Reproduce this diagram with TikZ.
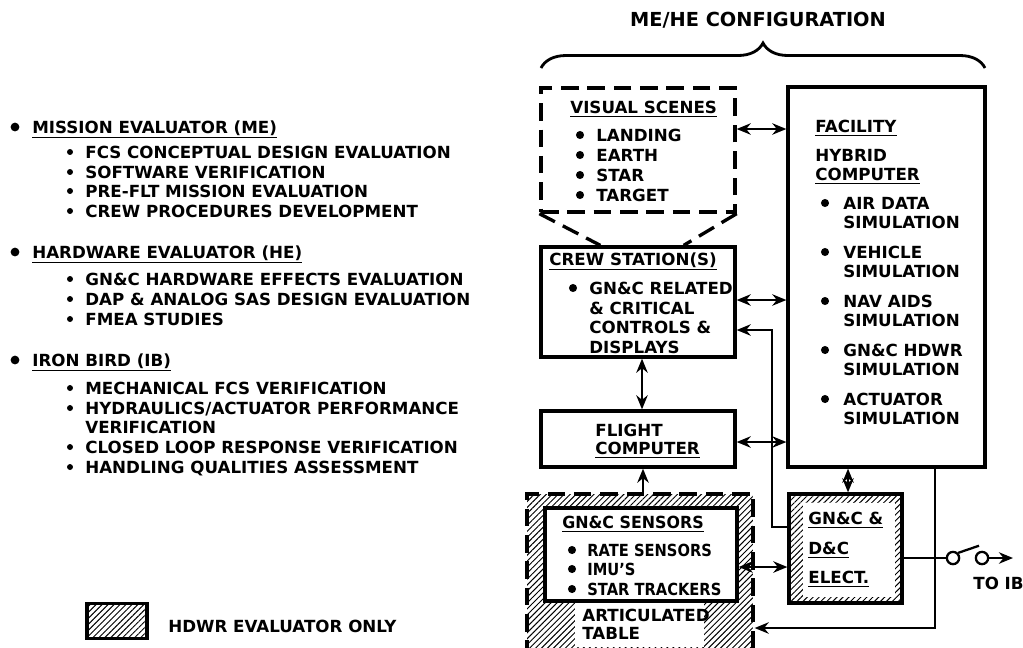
\documentclass[tikz,border=0pt]{standalone}
\usepackage{fontspec}
\usepackage{graphicx}
\setmainfont{DejaVu Sans}
\usetikzlibrary{arrows.meta,positioning,calc,patterns.meta,decorations.pathreplacing}
\newcommand{\narrow}[2][0.88]{\scalebox{#1}[1]{#2}}

\begin{document}
\begin{tikzpicture}[x=0.02cm,y=-0.02cm,>=Stealth,
  box/.style={draw,line width=1.9pt,inner sep=0pt},
  dashbox/.style={line width=1.9pt,dash pattern=on 10pt off 5pt},
  hatch/.style={pattern={Lines[angle=45,distance=2.4pt,line width=0.55pt]}},
  txt/.style={anchor=west,inner sep=0pt,font=\bfseries\fontsize{9.5}{11}\selectfont,text height=7pt,text depth=0pt},
  link/.style={line width=1.3pt},
  sw/.style={draw,circle,line width=1.3pt,minimum size=7pt,inner sep=0pt,fill=white},
  fa/.tip={Stealth[length=8pt,width=6.5pt]},
  oa/.tip={Stealth[open,length=8pt,width=6.5pt]}]
\useasboundingbox (0,0) rectangle (1023,647);
\clip (0,0) rectangle (1023,647);

% left column
\foreach \y/\t in {127/MISSION EVALUATOR (ME),252/HARDWARE EVALUATOR (HE),360/IRON BIRD (IB)}{
  \fill (15,\y) circle (2.5pt);
  \node[txt] (h\y) at (32,\y) {\underline{\t}};
}
\foreach \y/\t in {152/FCS CONCEPTUAL DESIGN EVALUATION,172/SOFTWARE VERIFICATION,
    191/PRE-FLT MISSION EVALUATION,211/CREW PROCEDURES DEVELOPMENT,
    279/GN\&C HARDWARE EFFECTS EVALUATION,299/DAP \& ANALOG SAS DESIGN EVALUATION,
    319/FMEA STUDIES,388/MECHANICAL FCS VERIFICATION,
    408/{HYDRAULICS/ACTUATOR PERFORMANCE},447/CLOSED LOOP RESPONSE VERIFICATION,
    467/HANDLING QUALITIES ASSESSMENT}{
  \fill (70,\y) circle (1.7pt);
  \node[txt] (i\y) at (85,\y) {\t};
}
\node[txt] (i427) at (85,427) {VERIFICATION};

% legend
\node[box,hatch,minimum width=1.2cm,minimum height=0.7cm] (legbox) at (117,621) {};
\node[txt] (legtxt) at (168,626) {HDWR EVALUATOR ONLY};

% ME/HE configuration
\node[font=\bfseries\fontsize{11}{13}\selectfont,inner sep=0pt] (title) at (758,20) {ME/HE CONFIGURATION};
\draw[line width=1.6pt,decorate,decoration={brace,amplitude=0.5cm}] (541,68) -- (985,68);

\node[box,dashbox,minimum width=3.88cm,minimum height=2.48cm] (visual) at (638,150) {};
\node[box,minimum width=3.88cm,minimum height=2.2cm] (crew) at (638,302) {};
\draw[dashbox] (visual.south west) -- ($(crew.north west)+(61,0)$);
\draw[dashbox] (visual.south east) -- ($(crew.north east)+(-53,0)$);
\node[box,minimum width=3.88cm,minimum height=1.12cm] (flight) at (638,439) {};
\node[box,minimum width=3.94cm,minimum height=7.6cm] (facility) at (886.5,277) {};
\node[box,dashbox,hatch,minimum width=4.52cm,minimum height=3.32cm] (table) at (640,577) {};
\node[box,fill=white,minimum width=3.84cm,minimum height=1.86cm] (sensors) at (641,554.5) {};
\fill[white] (575,603) rectangle (704,647);
\node[box,hatch,minimum width=2.26cm,minimum height=2.18cm] (elect) at (845.5,548.5) {};
\fill[white] ([shift={(16,11)}]elect.north west) rectangle ([shift={(-9,-8)}]elect.south east);
\node[sw] (sw1) at (953,558) {};
\node[sw] (sw2) at (982,558) {};
\coordinate (ib) at (1013,558);

% connectors
\draw[link,fa-fa] (visual.east |- 0,129) -- (facility.west |- 0,129);
\draw[link,fa-fa] (crew.east |- 0,300) -- (facility.west |- 0,300);
\draw[link,fa-] (crew.east |- 0,330) -| (772,527) -- (elect.west |- 0,527);
\draw[link,oa-oa] (crew.south -| 642,0) -- (flight.north -| 642,0);
\draw[link,oa-fa] (flight.east |- 0,442) -- (facility.west |- 0,442);
\draw[link,-oa] (table.north -| 643,0) -- (flight.south -| 643,0);
\draw[link,fa-fa] (elect.north -| 848,0) -- (facility.south -| 848,0);
\draw[link,oa-fa] (sensors.east |- 0,567) -- (elect.west |- 0,567);
\draw[link,-fa] (facility.south -| 935,0) |- (table.east |- 0,628);
\draw[link] (elect.east |- 0,558) -- (sw1);
\draw[link] (sw1.north east) -- ([shift={(-3,-5)}]sw2.north);
\draw[link,-fa] (sw2) -- (ib);
\node[txt] (toib) at (973,583) {TO IB};

% box texts
\node[txt] (vsh) at (570,107) {\underline{VISUAL SCENES}};
\foreach \y/\t in {135/LANDING,155/EARTH,175/STAR,195/TARGET}{
  \fill (580,\y) circle (2.3pt);
  \node[txt] (vs\y) at (596,\y) {\t};
}
\node[txt] (fach) at (815,126) {\underline{FACILITY}};
\node[txt] (hyb) at (815,155) {HYBRID};
\node[txt] (hybc) at (815,174) {\underline{COMPUTER}};
\foreach \y/\a in {203/AIR DATA,252/VEHICLE,301/NAV AIDS,350/GN\&C HDWR,399/ACTUATOR}{
  \fill (825,\y) circle (2.3pt);
  \node[txt] (fa\y) at (843,\y) {\a};
  \node[txt] (fb\y) at (843,\y+19) {SIMULATION};
}
\node[txt] (crh) at (549,259) {\underline{CREW STATION(S)}};
\fill (573,288) circle (2.3pt);
\foreach \y/\t in {288/GN\&C RELATED,308/\& CRITICAL,327/CONTROLS \&,347/DISPLAYS}
  \node[txt] (cr\y) at (589,\y) {\t};
\node[txt] (flt) at (595,430) {FLIGHT};
\node[txt] (fltc) at (595,448) {\underline{COMPUTER}};
\node[txt] (snh) at (562,522) {\underline{\narrow[0.95]{GN\&C SENSORS}}};
\foreach \y/\t in {550/RATE SENSORS,569/IMU'S,589/STAR TRACKERS}{
  \fill (572,\y) circle (2.3pt);
  \node[txt] (sn\y) at (587,\y) {\narrow{\t}};
}
\node[txt] (tab1) at (582,615) {ARTICULATED};
\node[txt] (tab2) at (582,633) {TABLE};
\node[txt] (el1) at (808,518) {\underline{GN\&C \&}};
\node[txt] (el2) at (808,548) {\underline{D\&C}};
\node[txt] (el3) at (808,577) {\underline{ELECT.}};
\end{tikzpicture}
\end{document}
